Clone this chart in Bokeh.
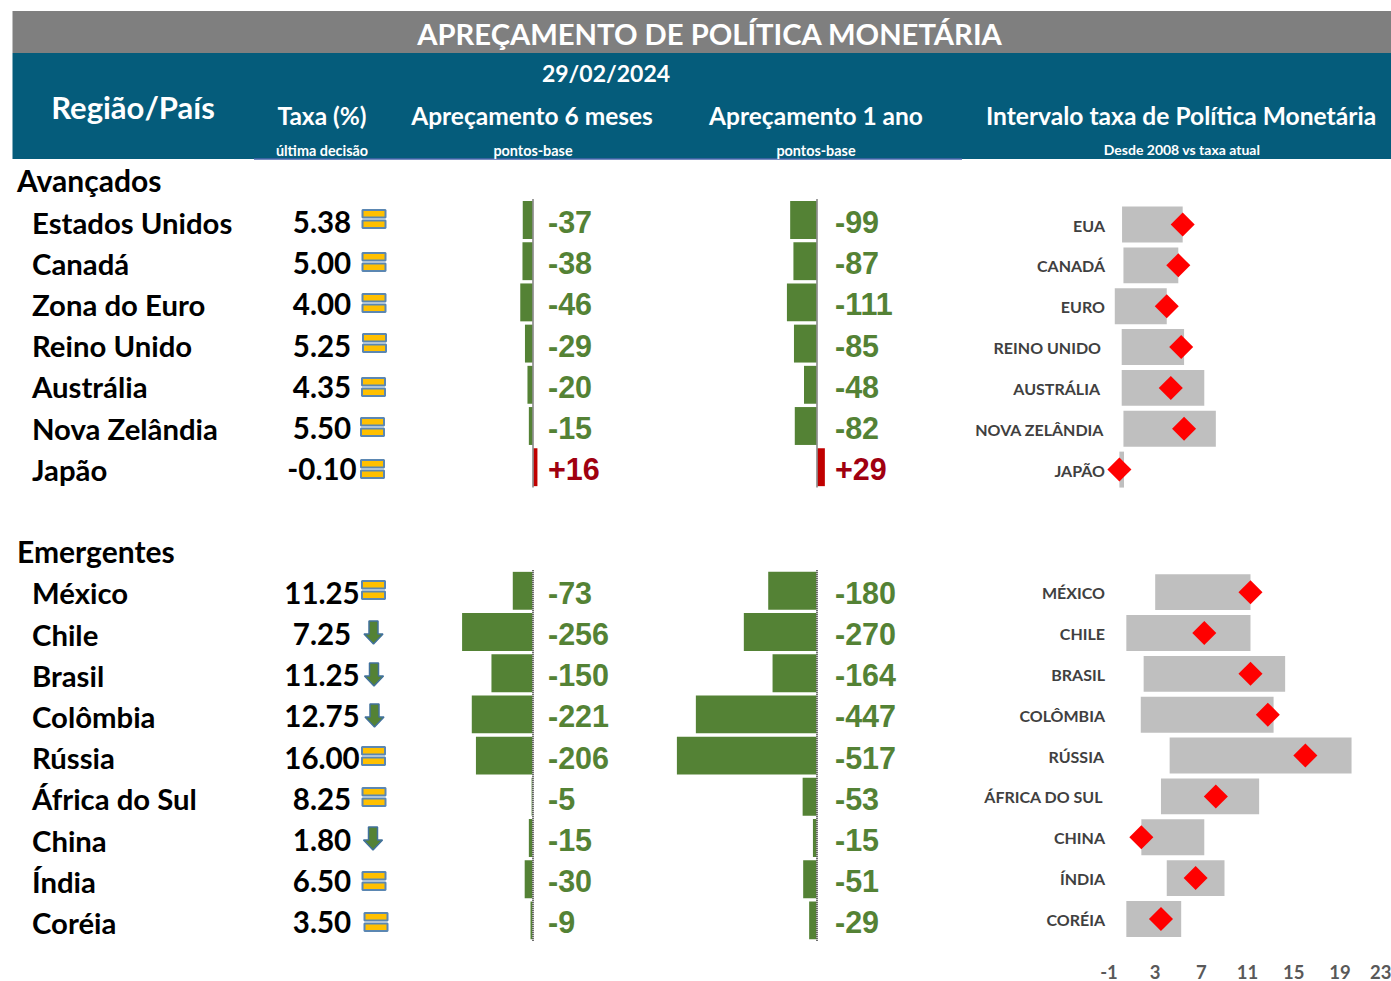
from bokeh.plotting import figure
from bokeh.models import Range1d, LinearAxis, FixedTicker
from bokeh.core.properties import value
from bokeh.embed import file_html
from bokeh.resources import INLINE

# ---------- data ----------
title = "APREÇAMENTO DE POLÍTICA MONETÁRIA"
date_label = "29/02/2024"
sections = ["Avançados", "Emergentes"]
names_adv = ["Estados Unidos", "Canadá", "Zona do Euro", "Reino Unido", "Austrália", "Nova Zelândia", "Japão"]
names_em = ["México", "Chile", "Brasil", "Colômbia", "Rússia", "África do Sul", "China", "Índia", "Coréia"]
rate_adv = [5.38, 5.00, 4.00, 5.25, 4.35, 5.50, -0.10]
rate_em = [11.25, 7.25, 11.25, 12.75, 16.00, 8.25, 1.80, 6.50, 3.50]
icon_adv = ["eq", "eq", "eq", "eq", "eq", "eq", "eq"]
icon_em = ["eq", "down", "down", "down", "eq", "eq", "down", "eq", "eq"]
m6_adv = [-37, -38, -46, -29, -20, -15, 16]
m6_em = [-73, -256, -150, -221, -206, -5, -15, -30, -9]
y1_adv = [-99, -87, -111, -85, -48, -82, 29]
y1_em = [-180, -270, -164, -447, -517, -53, -15, -51, -29]
iv_adv = ["EUA", "CANADÁ", "EURO", "REINO UNIDO", "AUSTRÁLIA", "NOVA ZELÂNDIA", "JAPÃO"]
iv_em = ["MÉXICO", "CHILE", "BRASIL", "COLÔMBIA", "RÚSSIA", "ÁFRICA DO SUL", "CHINA", "ÍNDIA", "CORÉIA"]
low_adv = [0.13, 0.25, -0.50, 0.10, 0.10, 0.25, -0.10]
high_adv = [5.38, 5.00, 4.00, 5.50, 7.25, 8.25, 0.30]
low_em = [3.00, 0.50, 2.00, 1.75, 4.25, 3.50, 1.80, 4.00, 0.50]
high_em = [11.25, 11.25, 14.25, 13.25, 20.00, 12.00, 7.25, 9.00, 5.25]
iv_ticks = [-1, 3, 7, 11, 15, 19, 23]

# ---------- layout constants (page pixels) ----------
FW, FH = 1391, 945
L, T = 0.5, 0.5
R, B = L + FW, T + FH
ROWS_ADV = list(range(7))
ROWS_EM = list(range(9, 18))
rows = ROWS_ADV + ROWS_EM

names = names_adv + names_em
rates = rate_adv + rate_em
icons = icon_adv + icon_em
m6 = m6_adv + m6_em
y1 = y1_adv + y1_em
iv = iv_adv + iv_em
lows = low_adv + low_em
highs = high_adv + high_em


def lin_range(zero_px, px_per_unit):
    return Range1d((L - zero_px) / px_per_unit, (R - zero_px) / px_per_unit)


def row_range(zero_px, pitch):
    return Range1d((B - zero_px) / pitch, (T - zero_px) / pitch)


p = figure(frame_width=FW, frame_height=FH, output_backend="svg", toolbar_location=None,
           x_range=Range1d(L, R), y_range=Range1d(B, T),
           x_axis_type=None, y_axis_type=None,
           min_border=0, min_border_left=0, min_border_right=0, min_border_top=0, min_border_bottom=0,
           outline_line_color=None, background_fill_color="white", border_fill_color="white")
p.extra_x_ranges = {"m6": lin_range(533, 0.277), "y1": lin_range(817, 0.271),
                    "iv": Range1d(-1 + (L - 1109) / 11.55, -1 + (R - 1109) / 11.55)}
RP, RZ = 41.2, 220
IP, IZ = 40.85, 224.5
p.extra_y_ranges = {"rows": row_range(RZ, RP), "ivrows": row_range(IZ, IP)}

# ---------- header ----------
GRAY, TEAL = "#7F7F7F", "#055C7B"
p.quad(left=[12.5], right=[R], top=[11], bottom=[53], fill_color=GRAY, line_color=None)
p.quad(left=[12.5], right=[R], top=[53], bottom=[159], fill_color=TEAL, line_color=None)
p.segment(x0=[254], x1=[962], y0=[159], y1=[159], line_color="#4A66AC", line_width=1.5)


def txt(x, y, s, size, color="black", align="left", font="Lato", **kw):
    p.text(x=x, y=y, text=s, text_font=value(font), text_font_size=value(size), text_font_style="bold",
           text_color=color, text_align=align, text_baseline="middle", **kw)


txt([710], [33], [title], "29.2px", "white", "center")
txt([606], [73], [date_label], "23px", "white", "center")
txt([133], [107], ["Região/País"], "31px", "white", "center")
txt([322], [115], ["Taxa (%)"], "24.5px", "white", "center")
txt([532], [115], ["Apreçamento 6 meses"], "24.5px", "white", "center")
txt([816], [115], ["Apreçamento 1 ano"], "24.5px", "white", "center")
txt([1181], [115], ["Intervalo taxa de Política Monetária"], "24.6px", "white", "center")
txt([322], [150], ["última decisão"], "14.4px", "white", "center")
txt([533, 816], [150, 150], ["pontos-base", "pontos-base"], "14.4px", "white", "center")
txt([1182], [149], ["Desde 2008 vs taxa atual"], "14px", "white", "center")
txt([17, 17], [180, 551], sections, "30px")

# ---------- table ----------
row_y = [RZ + 2 + RP * r for r in rows]
txt([32] * len(rows), row_y, names, "29.3px")
txt([322] * len(rows), row_y, [f"{v:.2f}" for v in rates], "29.5px", "black", "center")

# status icons
icon_x = [374, 374, 374, 374.5, 373.5, 372.5, 372.5, 373.5, 373.5, 374, 374.5, 373.5, 374, 373, 374, 376]
icon_y = [219, 262, 303, 343, 387, 427, 469, 590, 632, 674, 715, 756, 797, 838, 881, 922]
for ic, cx, cy in zip(icons, icon_x, icon_y):
    if ic == "eq":
        p.quad(left=[cx - 11.5, cx - 11.5], right=[cx + 11.5, cx + 11.5],
               top=[cy - 9, cy + 1.5], bottom=[cy - 1.5, cy + 9],
               fill_color="#FFC000", line_color="#5B87B2", line_width=2)
    else:
        p.patch(x=[cx - 4.5, cx + 4.5, cx + 4.5, cx + 9.5, cx, cx - 9.5, cx - 4.5],
                y=[cy - 11, cy - 11, cy + 2, cy + 2, cy + 12, cy + 2, cy + 2],
                fill_color="#548235", line_color="#41719C", line_width=1.5)

GREEN, RED, DKRED = "#548235", "#C00000", "#A00010"
for name, vals, tx in (("m6", m6, 548), ("y1", y1, 835)):
    cols = [GREEN if v < 0 else RED for v in vals]
    p.hbar(y=rows, left=[0] * len(vals), right=vals, height=0.92, fill_color=cols, line_color=None,
           x_range_name=name, y_range_name="rows")
    for r0, r1 in ((-0.5, 6.5), (8.5, 17.5)):
        p.segment(x0=[0], x1=[0], y0=[r0], y1=[r1], line_color="white", line_width=1.5,
                  x_range_name=name, y_range_name="rows")
        p.segment(x0=[0], x1=[0], y0=[r0], y1=[r1], line_color="black", line_width=1.5, line_dash="1 1",
                  x_range_name=name, y_range_name="rows")
    txt([tx] * len(vals), row_y, [f"{v:+d}" for v in vals], "30.5px",
        [GREEN if v < 0 else DKRED for v in vals], "left", font="Liberation Sans")

# ---------- interval chart ----------
p.hbar(y=rows, left=lows, right=highs, height=0.88, fill_color="#BFBFBF", line_color=None,
       x_range_name="iv", y_range_name="ivrows")
p.scatter(x=rates, y=rows, marker="square", size=17, angle=0.7854, fill_color="#FF0000", line_color=None,
          x_range_name="iv", y_range_name="ivrows")
lab_right = [1105, 1105, 1105, 1101, 1100, 1104, 1105, 1105, 1105, 1105, 1105, 1104, 1103, 1105, 1105, 1105]
lab_y = [IZ + 0.5 + IP * r for r in rows]
txt(lab_right, lab_y, iv, "16px", "#404040", "right")

axis = LinearAxis(x_range_name="iv", ticker=FixedTicker(ticks=iv_ticks),
                  major_label_overrides={t: str(t) for t in iv_ticks},
                  axis_line_color=None, major_tick_line_color=None, minor_tick_line_color=None,
                  major_label_text_font="Lato", major_label_text_font_style="bold",
                  major_label_text_font_size="18.5px", major_label_text_color="#595959",
                  major_label_standoff=13)
p.add_layout(axis, "below")

open("out.html", "w").write(file_html(p, INLINE))
